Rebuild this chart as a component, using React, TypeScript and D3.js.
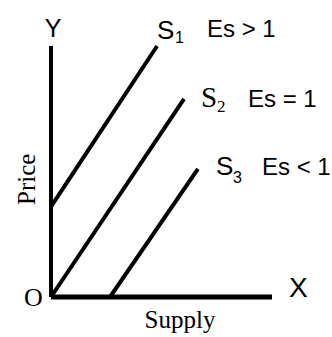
import React from "react";
import * as d3 from "d3";

// Supply curves: [quantity, price] endpoints (0–100 units)
const curveNames = ["S1", "S2", "S3"];
const curveStart: [number, number][] = [[0, 36], [0, 0], [26.7, 0]];
const curveEnd: [number, number][] = [[48, 100], [60.2, 78.9], [66.5, 51]];
const elasticity = ["Es > 1", "Es = 1", "Es < 1"];
const axisMax = [100, 100];

const W = 332;
const H = 337;

export default function App() {
  const x = d3.scaleLinear().domain([0, axisMax[0]]).range([51, 272]);
  const y = d3.scaleLinear().domain([0, axisMax[1]]).range([297, 46]);
  const line = d3
    .line<[number, number]>()
    .x((d) => x(d[0]))
    .y((d) => y(d[1]));

  const sans = "Liberation Sans, Arial, sans-serif";
  const serif = "Liberation Serif, Times New Roman, serif";

  return (
    <svg
      width={W}
      height={H}
      style={{ position: "absolute", left: 0, top: 0, display: "block", background: "#fff" }}
    >
      {/* axes */}
      <path d={line([[0, 0], [0, axisMax[1]]]) || ""} stroke="#000" strokeWidth={4} fill="none" />
      <path d={line([[0, 0], [axisMax[0], 0]]) || ""} stroke="#000" strokeWidth={5} fill="none" />

      {/* supply curves */}
      {curveNames.map((n, i) => (
        <path
          key={n}
          d={line([curveStart[i], curveEnd[i]]) || ""}
          stroke="#000"
          strokeWidth={4}
          fill="none"
        />
      ))}

      {/* axis letters */}
      <text x={53} y={37} fontFamily={sans} fontSize={25} textAnchor="middle">Y</text>
      <text x={289} y={297} fontFamily={sans} fontSize={28}>X</text>
      <text x={24} y={306} fontFamily={serif} fontSize={26}>O</text>
      <text x={180} y={328} fontFamily={serif} fontSize={25} textAnchor="middle">Supply</text>
      <text
        transform="translate(35,205) rotate(-90)"
        fontFamily={serif}
        fontSize={25}
      >
        Price
      </text>

      {/* curve labels */}
      <text x={157} y={39} fontFamily={sans} fontSize={26}>S</text>
      <text x={175} y={43} fontFamily={sans} fontSize={16}>1</text>
      <text x={207} y={37} fontFamily={sans} fontSize={24}>{elasticity[0]}</text>

      <text x={201} y={107} fontFamily={serif} fontSize={29}>S</text>
      <text x={217} y={112} fontFamily={serif} fontSize={17}>2</text>
      <text x={248} y={107} fontFamily={sans} fontSize={24}>{elasticity[1]}</text>

      <text x={216} y={175} fontFamily={sans} fontSize={26}>S</text>
      <text x={233} y={183} fontFamily={sans} fontSize={16}>3</text>
      <text x={262} y={175} fontFamily={sans} fontSize={24}>{elasticity[2]}</text>
    </svg>
  );
}
